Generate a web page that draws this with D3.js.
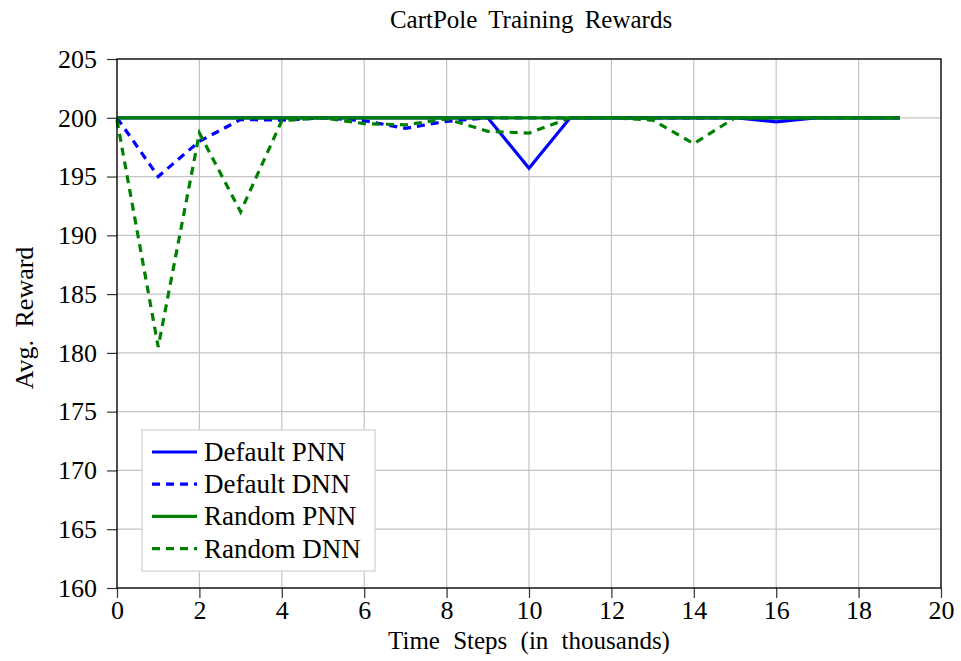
<!DOCTYPE html>
<html>
<head>
<meta charset="UTF-8">
<script src="https://d3js.org/d3.v7.min.js"></script>
<style>
  body { margin: 0; background: #fff; }
  svg text { font-family: "Liberation Serif", "DejaVu Serif", serif; fill: #000; }
</style>
</head>
<body>
<script>
  // time steps (thousands)
  var steps = d3.range(0, 20);
  var defaultPNN = [200,200,200,200,200,200,200,200,200,200,195.7,200,200,200,200,200,199.65,200,200,200];
  var defaultDNN = [200,195,198,199.85,199.8,200,199.75,199.1,199.7,200,200,200,200,200,200,200,200,200,200,200];
  var randomPNN  = [200,200,200,200,200,200,200,200,200,200,200,200,200,200,200,200,200,200,200,200];
  var randomDNN  = [199.8,180.5,198.7,192,199.75,200,199.5,199.4,199.9,198.85,198.7,200,200,199.8,197.8,200,200,200,200,200];

  var xTicks = d3.range(0, 21, 2);
  var yTicks = d3.range(160, 206, 5);

  var series = [
    {name: "Default PNN", values: defaultPNN, color: "#0000ff", dash: null},
    {name: "Default DNN", values: defaultDNN, color: "#0000ff", dash: "8,6"},
    {name: "Random PNN", values: randomPNN, color: "#008000", dash: null},
    {name: "Random DNN", values: randomDNN, color: "#008000", dash: "8,6"}
  ];

  var W = 961, H = 661;
  var margin = {top: 59, right: 20, bottom: 73, left: 117};
  var width = 941 - margin.left, height = 588 - margin.top;

  var svg = d3.select("body").append("svg").attr("width", W).attr("height", H);
  var g = svg.append("g").attr("transform", "translate(" + margin.left + "," + margin.top + ")");

  var x = d3.scaleLinear().domain([0, 20]).range([0, width]);
  var y = d3.scaleLinear().domain([160, 205]).range([height, 0]);

  // grid
  g.append("g").selectAll("line").data(xTicks).enter().append("line")
    .attr("x1", function(d) { return x(d); }).attr("x2", function(d) { return x(d); })
    .attr("y1", 0).attr("y2", height)
    .attr("stroke", "#c4c4c4").attr("stroke-width", 1.2);
  g.append("g").selectAll("line").data(yTicks).enter().append("line")
    .attr("y1", function(d) { return y(d); }).attr("y2", function(d) { return y(d); })
    .attr("x1", 0).attr("x2", width)
    .attr("stroke", "#c4c4c4").attr("stroke-width", 1.2);

  // axes
  var xAxis = g.append("g").attr("transform", "translate(0," + height + ")")
    .call(d3.axisBottom(x).tickValues(xTicks).tickSize(10).tickPadding(3).tickFormat(d3.format("d")));
  var yAxis = g.append("g")
    .call(d3.axisLeft(y).tickValues(yTicks).tickSize(10).tickPadding(10).tickFormat(d3.format("d")));
  [xAxis, yAxis].forEach(function(a) {
    a.select(".domain").remove();
    a.selectAll(".tick line").attr("stroke", "#333").attr("stroke-width", 1.2);
    a.selectAll("text").style("font-size", "26px").style("font-family", "Liberation Serif");
  });

  // lines
  var line = d3.line()
    .x(function(d, i) { return x(steps[i]); })
    .y(function(d) { return y(d); });

  series.forEach(function(s) {
    g.append("path")
      .datum(s.values)
      .attr("fill", "none")
      .attr("stroke", s.color)
      .attr("stroke-width", 3.2)
      .attr("stroke-dasharray", s.dash)
      .attr("stroke-linejoin", "miter")
      .attr("d", line);
  });

  // frame
  g.append("rect").attr("width", width).attr("height", height)
    .attr("fill", "none").attr("stroke", "#000").attr("stroke-width", 1.3);

  // legend
  var legend = g.append("g").attr("transform", "translate(" + (142 - margin.left) + "," + (430 - margin.top) + ")");
  legend.append("rect").attr("width", 233).attr("height", 141)
    .attr("fill", "#fff").attr("stroke", "#d0d0d0").attr("stroke-width", 1.2);
  series.forEach(function(s, i) {
    var ly = 22 + i * 32.2;
    legend.append("line")
      .attr("x1", 10).attr("x2", 55).attr("y1", ly).attr("y2", ly)
      .attr("stroke", s.color).attr("stroke-width", 3.2)
      .attr("stroke-dasharray", s.dash);
    legend.append("text")
      .attr("x", 62).attr("y", ly + 9)
      .style("font-size", "27px")
      .text(s.name);
  });

  // title & labels
  svg.append("text").attr("x", 531).attr("y", 28).attr("text-anchor", "middle")
    .style("font-size", "25px").style("word-spacing", "5px").text("CartPole Training Rewards");
  svg.append("text").attr("x", 529).attr("y", 649).attr("text-anchor", "middle")
    .style("font-size", "25px").style("word-spacing", "7px").text("Time Steps (in thousands)");
  svg.append("text").attr("transform", "translate(33,318) rotate(-90)")
    .attr("text-anchor", "middle").style("font-size", "26px").style("word-spacing", "6px").text("Avg. Reward");
</script>
</body>
</html>
